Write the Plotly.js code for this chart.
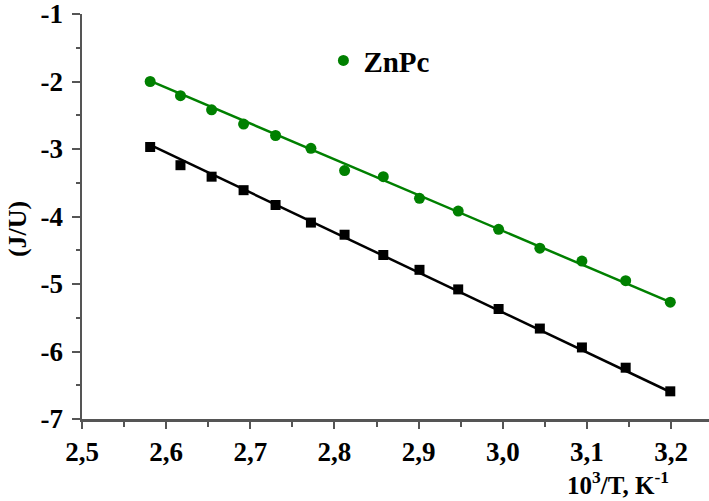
<!DOCTYPE html>
<html>
<head>
<meta charset="utf-8">
<script src="https://cdn.plot.ly/plotly-3.0.1.min.js"></script>
<style>html,body{margin:0;padding:0;background:#fff;}#chart{width:709px;height:501px;}</style>
</head>
<body>
<div id="chart"></div>
<script>
// 10^3/T values
const xVals = [2.581, 2.617, 2.654, 2.692, 2.730, 2.772, 2.812, 2.858, 2.901, 2.947, 2.995, 3.044, 3.094, 3.146, 3.199];
// ZnPc (green circles)
const znpcY = [-2.00, -2.21, -2.42, -2.63, -2.80, -2.99, -3.32, -3.41, -3.73, -3.92, -4.19, -4.47, -4.66, -4.95, -5.27];
// second sample (black squares)
const blackY = [-2.97, -3.24, -3.41, -3.61, -3.83, -4.09, -4.27, -4.57, -4.79, -5.08, -5.37, -5.66, -5.94, -6.24, -6.59];
// linear fit line endpoints
const fitX = [2.581, 3.199];
const znpcFit = [-1.99, -5.27];
const blackFit = [-2.94, -6.60];

const xTicks = [2.5, 2.6, 2.7, 2.8, 2.9, 3.0, 3.1, 3.2];
const yTicks = [-7, -6, -5, -4, -3, -2, -1];

const green = 'rgb(0,128,0)';
const axisColor = '#555';
const fontFam = 'Liberation Serif';

const traces = [
  {x: fitX, y: blackFit, mode: 'lines', line: {color: '#000', width: 2.5}, showlegend: false, hoverinfo: 'skip'},
  {x: xVals, y: blackY, mode: 'markers', marker: {symbol: 'square', size: 10, color: '#000'}, showlegend: false, name: ''},
  {x: fitX, y: znpcFit, mode: 'lines', line: {color: green, width: 2.5}, showlegend: false, hoverinfo: 'skip'},
  {x: xVals, y: znpcY, mode: 'markers', marker: {symbol: 'circle', size: 11, color: green}, name: '<b>ZnPc</b>'}
];

const layout = {
  width: 709, height: 501,
  margin: {l: 82, r: 0, t: 14, b: 82},
  paper_bgcolor: '#fff', plot_bgcolor: '#fff',
  separators: ', ',
  font: {family: fontFam, color: '#000'},
  showlegend: true,
  legend: {x: 0.385, y: 0.885, xanchor: 'left', yanchor: 'middle', bgcolor: 'rgba(0,0,0,0)',
           font: {family: fontFam, size: 29, color: '#000'}},
  xaxis: {
    range: [2.5, 3.245], tickvals: xTicks, ticktext: xTicks.map(v => '<b>' + v.toFixed(1).replace('.', ',') + '</b>'),
    showline: true, linecolor: axisColor, linewidth: 2.5, showgrid: false, zeroline: false,
    ticks: 'outside', ticklen: 7, tickwidth: 2, tickcolor: axisColor, ticklabelstandoff: 0,
    ticklabeloverflow: 'allow',
    tickfont: {family: fontFam, size: 27, color: '#000'},
    minor: {dtick: 0.05, tick0: 2.5, ticks: 'outside', ticklen: 5, tickwidth: 2, tickcolor: axisColor, showgrid: false}
  },
  yaxis: {
    range: [-7, -1], tickvals: yTicks, ticktext: yTicks.map(v => '<b>' + v + '</b>'),
    showline: true, linecolor: axisColor, linewidth: 2.5, showgrid: false, zeroline: false,
    ticks: 'outside', ticklen: 8, tickwidth: 2, tickcolor: axisColor, ticklabelstandoff: 3,
    ticklabeloverflow: 'allow',
    tickfont: {family: fontFam, size: 27, color: '#000'},
    minor: {dtick: 0.5, tick0: -7, ticks: 'outside', ticklen: 4, tickwidth: 2, tickcolor: axisColor, showgrid: false}
  },
  annotations: [
    {text: '<b>10<sup>3</sup>/T, K<sup>-1</sup></b>', xref: 'paper', yref: 'paper', x: 0.855, y: -0.158,
     xanchor: 'center', yanchor: 'middle', showarrow: false, font: {family: fontFam, size: 25, color: '#000'}},
    {text: '<b>(J/U)</b>', xref: 'paper', yref: 'paper', x: -0.103, y: 0.47, textangle: -90,
     xanchor: 'center', yanchor: 'middle', showarrow: false, font: {family: fontFam, size: 26, color: '#000'}}
  ]
};

Plotly.newPlot('chart', traces, layout, {displayModeBar: false, staticPlot: true});
</script>
</body>
</html>
